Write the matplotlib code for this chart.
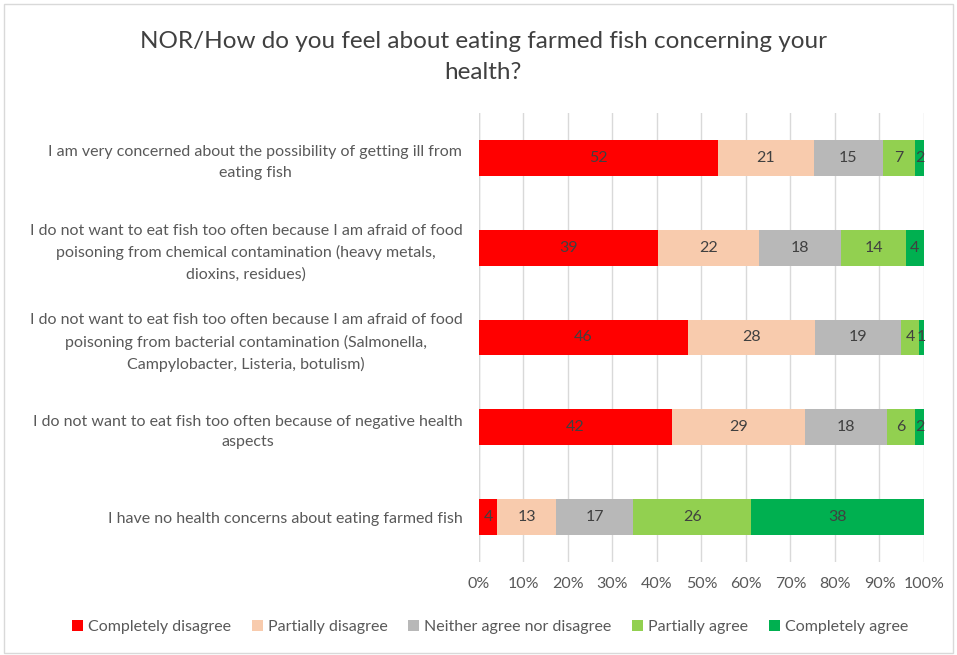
import numpy as np
import matplotlib.pyplot as plt
from matplotlib.patches import Rectangle

plt.rcParams['font.family'] = ['Lato', 'DejaVu Sans']

statements = [
    'I am very concerned about the possibility of getting ill from\neating fish',
    'I do not want to eat fish too often because I am afraid of food\npoisoning from chemical contamination (heavy metals,\ndioxins, residues)',
    'I do not want to eat fish too often because I am afraid of food\npoisoning from bacterial contamination (Salmonella,\nCampylobacter, Listeria, botulism)',
    'I do not want to eat fish too often because of negative health\naspects',
    'I have no health concerns about eating farmed fish',
]
answers = ['Completely disagree', 'Partially disagree', 'Neither agree nor disagree',
           'Partially agree', 'Completely agree']
completely_disagree = [52, 39, 46, 42, 4]
partially_disagree = [21, 22, 28, 29, 13]
neither = [15, 18, 19, 18, 17]
partially_agree = [7, 14, 4, 6, 26]
completely_agree = [2, 4, 1, 2, 38]
colors = ['#FF0000', '#F8CBAD', '#B8B8B8', '#92D050', '#00B050']

counts = np.array([completely_disagree, partially_disagree, neither,
                   partially_agree, completely_agree], dtype=float)
shares = counts / counts.sum(axis=0) * 100

fig = plt.figure(figsize=(9.57, 6.55), dpi=100)
ax = fig.add_axes([0.5005, 0.142, 0.465, 0.6855])

y = np.arange(len(statements))
left = np.zeros(len(statements))
for i, name in enumerate(answers):
    bars = ax.barh(y, shares[i], left=left, height=0.4, color=colors[i],
                   label=name, zorder=2)
    for j, b in enumerate(bars):
        ax.text(b.get_x() + b.get_width() / 2, b.get_y() + b.get_height() / 2,
                f'{int(counts[i, j])}', ha='center', va='center',
                fontsize=11.5, color='#404040', zorder=3)
    left += shares[i]

ax.set_xlim(0, 100)
ax.set_ylim(len(statements) - 0.5, -0.5)
ax.set_xticks(np.arange(0, 101, 10))
ax.set_xticklabels([f'{t}%' for t in range(0, 101, 10)])
ax.set_yticks(y)
ax.set_yticklabels(statements, multialignment='center', linespacing=1.6)
ax.tick_params(axis='both', length=0, labelsize=11.5, labelcolor='#595959')
ax.tick_params(axis='x', pad=11)
ax.tick_params(axis='y', pad=12)
ax.grid(axis='x', color='#D9D9D9', linewidth=1, zorder=0)
for s in ax.spines.values():
    s.set_visible(False)
ax.axvline(0, color='#D9D9D9', linewidth=1, zorder=1)

fig.text(0.505, 0.913, 'NOR/How do you feel about eating farmed fish concerning your\nhealth?',
         ha='center', va='center', fontsize=17.5, color='#404040', linespacing=1.55)

fig.legend(loc='center', bbox_to_anchor=(0.512, 0.043), ncol=5, frameon=False,
           fontsize=11.5, handlelength=0.7, handleheight=0.7, handletextpad=0.3,
           columnspacing=1.3, labelcolor='#595959')

fig.patches.append(Rectangle((0.004, 0.003), 0.992, 0.991, transform=fig.transFigure,
                             fill=False, edgecolor='#D9D9D9', linewidth=1))

plt.savefig('out.png', dpi=100)
